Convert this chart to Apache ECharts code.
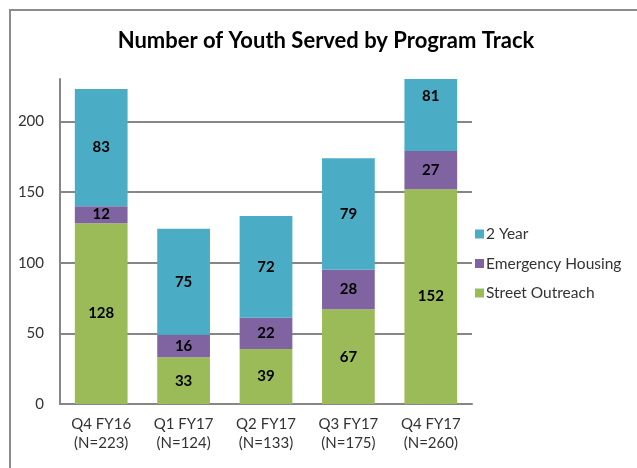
<!DOCTYPE html>
<html>
<head>
<meta charset="utf-8">
<script src="https://cdn.jsdelivr.net/npm/echarts@6/dist/echarts.min.js"></script>
<style>
  html, body { margin: 0; padding: 0; background: #fff; }
  #chart { width: 637px; height: 468px; }
</style>
</head>
<body>
<div id="chart"></div>
<script>
const categories = ["Q4 FY16\n(N=223)", "Q1 FY17\n(N=124)", "Q2 FY17\n(N=133)", "Q3 FY17\n(N=175)", "Q4 FY17\n(N=260)"];
const streetOutreach = [128, 33, 39, 67, 152];
const emergencyHousing = [12, 16, 22, 28, 27];
const twoYear = [83, 75, 72, 79, 81];
const yTicks = [0, 50, 100, 150, 200];
const yMax = 230;

const FONT = "Lato";
const chart = echarts.init(document.getElementById("chart"));

const barLabel = {
  show: true,
  position: "inside",
  color: "#000",
  fontFamily: FONT,
  fontWeight: "bold",
  fontSize: 15
};

// bars that run past the axis top get clipped; keep their label near the top
function makeSeries(name, values, color, below) {
  const data = values.map(function (v, i) {
    const base = below ? below[i] : 0;
    if (base + v > yMax) {
      return { value: v, label: { position: "insideTop", distance: 10 } };
    }
    return v;
  });
  return {
    name: name,
    type: "bar",
    stack: "total",
    barWidth: "64%",
    data: data,
    itemStyle: { color: color },
    label: barLabel
  };
}

const baseTwoYear = streetOutreach.map(function (v, i) { return v + emergencyHousing[i]; });

const option = {
  animation: false,
  backgroundColor: "#fff",
  graphic: [
    {
      type: "rect",
      shape: { x: 10, y: 10, width: 700, height: 600 },
      style: { fill: "none", stroke: "#8c8c8c", lineWidth: 2 },
      silent: true
    }
  ],
  title: {
    text: "Number of Youth Served by Program Track",
    left: 321,
    textAlign: "center",
    top: 25,
    textStyle: { fontFamily: FONT, fontWeight: "bold", fontSize: 22, color: "#000" }
  },
  legend: {
    orient: "vertical",
    left: 470,
    top: 221,
    itemWidth: 9,
    itemHeight: 9,
    itemGap: 13.5,
    icon: "rect",
    data: ["2 Year", "Emergency Housing", "Street Outreach"],
    textStyle: { fontFamily: FONT, fontSize: 15.5, color: "#333", padding: [0, 0, 0, -3] }
  },
  grid: { left: 60, right: 165, top: 79, bottom: 64 },
  xAxis: {
    type: "category",
    data: categories,
    axisLine: { lineStyle: { color: "#868686", width: 2 } },
    axisTick: { show: false },
    axisLabel: { fontFamily: FONT, fontSize: 15, color: "#333", lineHeight: 19, margin: 11 }
  },
  yAxis: {
    type: "value",
    min: 0,
    max: yMax,
    interval: 50,
    axisLine: { show: true, lineStyle: { color: "#868686", width: 2 } },
    axisTick: { show: false },
    axisLabel: {
      fontFamily: FONT, fontSize: 15, color: "#333", margin: 16, showMaxLabel: false,
      formatter: function (v) { return yTicks.indexOf(v) >= 0 ? String(v) : ""; }
    },
    splitLine: { show: true, showMaxLine: false, lineStyle: { color: "#868686", width: 2 } }
  },
  series: [
    makeSeries("Street Outreach", streetOutreach, "#9bbb59"),
    makeSeries("Emergency Housing", emergencyHousing, "#8064a2", streetOutreach),
    makeSeries("2 Year", twoYear, "#4bacc6", baseTwoYear)
  ]
};

chart.setOption(option);
</script>
</body>
</html>
